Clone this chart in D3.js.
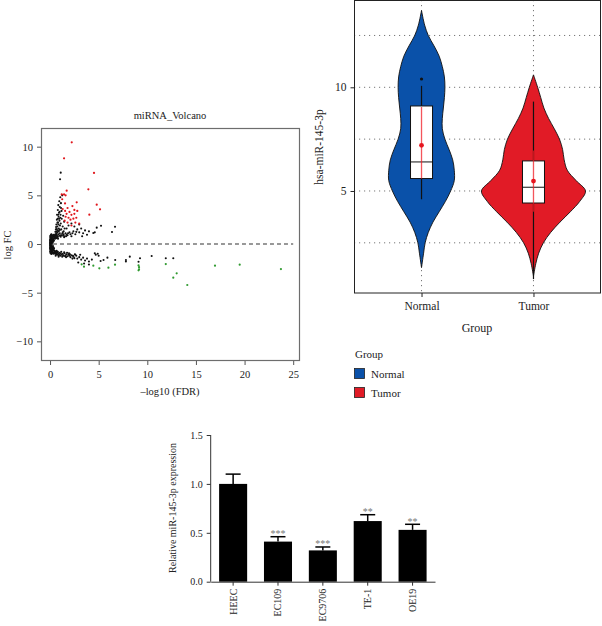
<!DOCTYPE html>
<html>
<head>
<meta charset="utf-8">
<script src="https://cdn.jsdelivr.net/npm/d3@7"></script>
<style>
html,body{margin:0;padding:0;background:#fff;}
svg{display:block;font-family:"Liberation Serif","DejaVu Serif",serif;}
</style>
</head>
<body>
<svg id="chart" width="602" height="626"></svg>
<script>
// ---------------- DATA ----------------
// Volcano plot: [-log10(FDR), logFC]
const volcanoBlack = [
 [0.02,0.05],[0.03,-0.1],[0.05,0.2],[0.04,-0.25],[0.06,0.35],[0.05,-0.38],[0.08,0.45],[0.07,-0.5],
 [0.1,0.1],[0.1,-0.15],[0.12,0.55],[0.11,-0.6],[0.15,0.3],[0.14,-0.35],[0.18,0.62],[0.17,-0.7],
 [0.2,0.0],[0.22,0.4],[0.21,-0.45],[0.25,0.7],[0.24,-0.78],[0.28,0.2],[0.3,-0.2],[0.32,0.75],
 [0.3,-0.85],[0.35,0.5],[0.36,-0.55],[0.4,0.8],[0.38,-0.9],[0.0,0.3],[0.01,-0.3],[0.02,0.5],
 [0.01,-0.5],[0.13,-0.8],[0.09,0.7],[0.0,0.0],[0.04,0.1],[0.06,-0.05],[0.16,0.1],[0.19,-0.25],
 [0.26,0.45],[0.27,-0.6],[0.33,0.3],[0.34,-0.35],[0.42,0.6],[0.44,-0.7],[0.08,-0.7],[0.12,0.8],
 [0.03,0.65],[0.05,-0.62],[0.2,0.85],[0.22,-0.95],[0.15,-0.9],[0.29,0.9],
 [0.0,0.15],[0.0,-0.15],[0.01,0.4],[0.01,-0.42],[0.03,0.75],[0.03,-0.72],[0.07,0.85],[0.06,-0.85],
 [0.1,0.95],[0.1,-0.95],[0.14,1.0],[0.14,-1.02],[0.18,0.45],[0.18,-0.55],[0.24,0.15],[0.24,-0.3],
 [0.3,0.55],[0.31,-0.65],[0.37,0.95],[0.36,-1.0],[0.4,0.35],[0.41,-0.45],[0.47,0.75],[0.48,-0.85],
 [0.53,0.9],[0.54,-0.95],[0.58,0.65],[0.59,-0.75],[0.63,0.95],[0.66,-0.98],[0.73,0.8],[0.74,-0.85],
 [0.08,0.25],[0.09,-0.3],[0.12,0.35],[0.13,-0.2],[0.04,0.85],[0.05,-0.95],[0.02,-0.8],[0.16,0.75],
 [0.45,0.9],[0.5,0.7],[0.55,1.0],[0.6,0.8],[0.65,1.1],[0.7,0.9],[0.75,1.2],[0.8,0.75],
 [0.85,1.0],[0.9,1.3],[0.95,0.85],[1.0,1.1],[0.52,0.55],[0.62,0.6],[0.72,0.65],[0.82,0.55],
 [0.45,-0.95],[0.5,-0.8],[0.55,-1.0],[0.6,-0.85],[0.65,-1.05],[0.7,-0.9],[0.75,-1.1],[0.8,-0.8],
 [0.85,-1.0],[0.9,-1.15],[0.95,-0.9],[1.0,-1.05],[1.1,-0.95],[1.2,-1.1],[1.3,-1.0],[1.4,-1.2],
 [1.5,-0.95],[1.6,-1.15],[1.7,-1.05],[1.8,-1.25],[1.9,-1.1],[2.0,-1.2],[2.1,-1.35],[2.2,-1.15],
 [2.4,-1.3],[2.5,-1.45],[2.7,-1.2],[2.8,-1.5],[3.0,-1.35],[3.2,-1.6],[3.4,-1.4],[3.6,-1.7],
 [3.8,-1.5],[4.0,-1.8],[4.3,-1.6],[4.6,-0.95],[4.7,-1.1],[4.9,-1.0],[5.0,-1.2],[5.2,-1.75],
 [5.5,-1.65],[5.9,-1.4],[6.7,-1.65],[7.8,-1.65],[7.8,-1.8],[8.2,-1.3],[9.1,-1.82],[9.25,-1.47],
 [10.45,-1.23],[11.9,-1.47],[12.67,-1.47],[3.5,-2.0],[4.0,-2.1],[2.9,-1.9],[1.25,-1.3],[1.45,-0.85],
 [1.65,-1.35],[1.95,-0.95],[2.3,-1.5],[2.6,-1.1],[3.1,-1.1],[0.58,-1.2],[0.68,-0.7],[0.88,-1.3],
 [1.05,-1.2],[1.15,-0.8],[1.35,-1.15],[1.55,-1.25],[1.75,-0.9],[2.05,-1.05],[2.35,-1.2],[2.55,-1.05],
 [0.6,1.5],[0.65,2.0],[0.7,2.5],[0.72,3.0],[0.75,1.8],[0.8,3.5],[0.82,2.2],[0.85,4.0],
 [0.88,2.8],[0.9,1.6],[0.92,3.2],[0.95,4.4],[0.97,2.4],[1.0,3.8],[1.02,1.9],[1.05,4.8],
 [1.08,3.0],[1.1,2.1],[1.12,4.2],[1.15,1.5],[1.18,3.4],[1.2,2.6],[1.25,5.0],[1.3,1.8],
 [1.35,2.9],[1.4,1.3],[1.45,2.3],[1.5,1.6],[0.68,1.3],[0.78,2.6],[0.98,3.3],[1.06,2.7],
 [0.55,1.25],[0.62,1.75],[1.1,7.33],[1.03,6.65],[0.7,1.55],[0.8,1.4],[0.86,2.0],[0.93,2.6],
 [1.0,1.45],[0.76,2.2],[1.13,3.7],[0.84,3.0],
 [1.2,0.9],[1.4,1.0],[1.6,1.1],[1.8,0.9],[2.0,1.2],[2.2,0.8],[2.4,1.3],[2.6,1.0],
 [2.8,1.5],[3.0,1.2],[3.2,1.6],[3.4,1.1],[3.6,1.4],[3.8,0.95],[4.0,1.3],[4.45,1.13],
 [4.8,1.68],[5.24,1.88],[6.37,1.23],[6.68,1.78],[4.6,1.2],[2.5,1.8],[3.0,2.0],[3.3,0.8],
 [1.7,1.6],[1.9,1.9],[2.2,2.1],[1.1,0.75],[1.3,1.2],[1.5,0.8],[1.7,0.95],[2.1,1.0],
 [1.25,1.05],[1.45,0.7],[1.65,0.8],[1.85,1.1],[2.3,1.1],[2.7,1.25],[1.05,0.9],[1.35,0.85]
];
const volcanoUp = [
 [2.23,10.45],[1.44,8.8],[4.52,7.3],[3.94,5.62],[1.71,5.48],[1.2,5.1],[1.44,5.1],[1.6,5.0],
 [4.8,4.04],[5.14,3.56],[4.04,3.01],[2.74,4.28],[1.54,4.17],[1.8,3.7],[2.3,3.9],[2.5,3.5],
 [2.0,3.3],[1.7,3.1],[2.8,3.4],[2.2,3.0],[1.9,2.7],[2.4,2.6],[2.1,2.5],[1.6,2.8],
 [1.5,2.4],[2.6,2.2],[3.0,2.1],[1.8,2.2],[2.2,1.9],[2.5,3.1],[1.3,3.6],[1.25,4.6],
 [1.55,3.4],[2.7,2.7]
];
const volcanoDown = [
 [3.25,-2.09],[3.49,-2.33],[4.45,-2.23],[5.07,-2.5],[6.0,-2.43],[6.68,-2.12],
 [9.1,-2.2],[9.15,-2.38],[9.15,-2.6],[9.1,-2.7],[11.9,-2.06],[13.02,-3.01],[12.67,-3.46],
 [14.11,-4.21],[16.96,-2.23],[19.5,-2.12],[23.74,-2.57]
];
const volcanoXTicks = [0,5,10,15,20,25];
const volcanoYTicks = [-10,-5,0,5,10];

// Violin plot
const groups = ["Normal","Tumor"];
const groupColors = ["#0a51a9","#e11b26"];
// [expression, relative density]
const normalDensity = [[1.3,0],[2,0.04],[2.5,0.07],[3,0.13],[3.5,0.22],[4,0.34],[4.5,0.46],[5,0.56],
 [5.5,0.63],[6,0.63],[6.5,0.60],[7,0.53],[7.5,0.45],[8,0.40],[8.5,0.40],[9,0.42],[9.5,0.44],
 [10,0.45],[10.5,0.44],[11,0.40],[11.5,0.34],[12,0.24],[12.5,0.13],[13,0.06],[13.7,0]];
const tumorDensity = [[0.9,0],[1.5,0.045],[2,0.10],[2.5,0.19],[3,0.33],[3.5,0.51],[4,0.71],[4.5,0.89],
 [5,1.0],[5.5,0.82],[6,0.65],[6.5,0.59],[7,0.56],[7.5,0.50],[8,0.40],[8.5,0.29],[9,0.20],
 [9.5,0.14],[10,0.08],[10.6,0]];
// box stats: [whiskerLow, q1, median, q3, whiskerHigh]
const boxStats = [[4.6,5.6,6.4,9.1,10.07],[0.75,4.42,5.18,6.45,9.31]];
const meanValues = [7.2,5.48];
const sdRanges = [[5.6,9.05],[4.0,6.95]];
const outliers = [[0,10.4]];
const violinYTicks = [5,10];
const violinGrid = [2.5,5,7.5,10,12.5];

// Bar chart
const cellLines = ["HEEC","EC109","EC9706","TE-1","OE19"];
const expression = [1.0,0.41,0.32,0.62,0.53];
const errorTop = [1.10,0.46,0.355,0.685,0.587];
const significance = ["","***","***","**","**"];
const barYTicks = [0,0.5,1.0,1.5];

// ---------------- DRAW ----------------
const svg = d3.select("#chart");
const txt = "#222";

// ===== Volcano =====
const vx = d3.scaleLinear().domain([-0.93,25.7]).range([41,300]);
const vy = d3.scaleLinear().domain([-12.02,11.92]).range([361,128]);
const gV = svg.append("g");
gV.append("rect").attr("x",vx.range()[0]+0.5).attr("y",vy.range()[1]+0.5)
  .attr("width",vx.range()[1]-vx.range()[0]-1).attr("height",vy.range()[0]-vy.range()[1]-1)
  .attr("fill","none").attr("stroke","#6d6d6d").attr("stroke-width",1.2);
const vxAxis = gV.append("g").attr("transform",`translate(0,${vy.range()[0]})`)
  .call(d3.axisBottom(vx).tickValues(volcanoXTicks).tickSize(4).tickPadding(6).tickFormat(d3.format("d")));
const vyAxis = gV.append("g").attr("transform",`translate(${vx.range()[0]},0)`)
  .call(d3.axisLeft(vy).tickValues(volcanoYTicks).tickSize(4).tickPadding(4).tickFormat(d=>d<0?"\u2212"+Math.abs(d):d));
[vxAxis,vyAxis].forEach(a=>{
  a.select(".domain").remove();
  a.selectAll("line").attr("stroke","#555");
  a.selectAll("text").attr("fill",txt).style("font-size","10.5px").style("font-family","Liberation Serif");
});
gV.append("line").attr("x1",vx(0.3)).attr("x2",vx(25)).attr("y1",vy(0)).attr("y2",vy(0))
  .attr("stroke","#333").attr("stroke-width",1.1).attr("stroke-dasharray","4,3");
gV.append("g").selectAll("circle").data(volcanoBlack).join("circle")
  .attr("cx",d=>vx(d[0])).attr("cy",d=>vy(d[1])).attr("r",1.05).attr("fill","#111");
gV.append("g").selectAll("circle").data(volcanoUp).join("circle")
  .attr("cx",d=>vx(d[0])).attr("cy",d=>vy(d[1])).attr("r",1.1).attr("fill","#e0161c");
gV.append("g").selectAll("circle").data(volcanoDown).join("circle")
  .attr("cx",d=>vx(d[0])).attr("cy",d=>vy(d[1])).attr("r",1.1).attr("fill","#2f9a2f");
gV.append("text").attr("x",170).attr("y",119).attr("text-anchor","middle")
  .attr("fill",txt).style("font-size","10.5px").text("miRNA_Volcano");
gV.append("text").attr("x",170).attr("y",395).attr("text-anchor","middle")
  .attr("fill",txt).style("font-size","10.5px").text("\u2013log10 (FDR)");
gV.append("text").attr("transform","translate(11,245) rotate(-90)").attr("text-anchor","middle")
  .attr("fill",txt).style("font-size","10.5px").text("log FC");

// ===== Violin =====
const gx = d3.scalePoint().domain(groups).range([354,601]).padding(0.603);
const gy = d3.scaleLinear().domain([0.08,14.21]).range([293,0]);
const wScale = d3.scaleLinear().domain([0,1]).range([0,52]);
const gVi = svg.append("g");
// grid
gVi.append("g").selectAll("line").data(violinGrid).join("line")
  .attr("x1",354).attr("x2",601).attr("y1",d=>gy(d)).attr("y2",d=>gy(d))
  .attr("stroke","#777").attr("stroke-width",1).attr("stroke-dasharray","1.2,3.8");
gVi.append("g").selectAll("line").data(groups).join("line")
  .attr("x1",d=>gx(d)).attr("x2",d=>gx(d)).attr("y1",0).attr("y2",293)
  .attr("stroke","#777").attr("stroke-width",1).attr("stroke-dasharray","1.2,3.8");
const densities = [normalDensity,tumorDensity];
groups.forEach((g,i)=>{
  const cx = gx(g);
  const area = d3.area().y(d=>gy(d[0])).x0(d=>cx-wScale(d[1])).x1(d=>cx+wScale(d[1])).curve(d3.curveCatmullRom);
  gVi.append("path").datum(densities[i]).attr("d",area)
    .attr("fill",groupColors[i]).attr("stroke","#111").attr("stroke-width",0.9);
  const b = boxStats[i];
  gVi.append("line").attr("x1",cx).attr("x2",cx).attr("y1",gy(b[0])).attr("y2",gy(b[4]))
    .attr("stroke","#111").attr("stroke-width",1.2);
  gVi.append("rect").attr("x",cx-11).attr("width",22).attr("y",gy(b[3])).attr("height",gy(b[1])-gy(b[3]))
    .attr("fill","#fff").attr("stroke","#111").attr("stroke-width",1);
  gVi.append("line").attr("x1",cx-11).attr("x2",cx+11).attr("y1",gy(b[2])).attr("y2",gy(b[2]))
    .attr("stroke","#111").attr("stroke-width",1);
  gVi.append("line").attr("x1",cx).attr("x2",cx).attr("y1",gy(sdRanges[i][0])).attr("y2",gy(sdRanges[i][1]))
    .attr("stroke","#f01c24").attr("stroke-opacity",0.75).attr("stroke-width",1.3);
  gVi.append("circle").attr("cx",cx).attr("cy",gy(meanValues[i])).attr("r",2.4).attr("fill","#e5161f");
});
gVi.append("g").selectAll("circle").data(outliers).join("circle")
  .attr("cx",d=>gx(groups[d[0]])).attr("cy",d=>gy(d[1])).attr("r",1.6).attr("fill","#111");
// frame
gVi.append("rect").attr("x",354.5).attr("y",0.5).attr("width",246).attr("height",292.5)
  .attr("fill","none").attr("stroke","#222").attr("stroke-width",1);
const gyAxis = gVi.append("g").attr("transform","translate(354.5,0)")
  .call(d3.axisLeft(gy).tickValues(violinYTicks).tickSize(4).tickPadding(4));
const gxAxis = gVi.append("g").attr("transform","translate(0,293)")
  .call(d3.axisBottom(gx).tickSize(4).tickPadding(5));
[gyAxis,gxAxis].forEach(a=>{
  a.select(".domain").remove();
  a.selectAll("line").attr("stroke","#222");
  a.selectAll("text").attr("fill",txt).style("font-size","11.5px").style("font-family","Liberation Serif");
});
gVi.append("text").attr("x",477).attr("y",332).attr("text-anchor","middle")
  .attr("fill",txt).style("font-size","12px").text("Group");
gVi.append("text").attr("transform","translate(323,147) rotate(-90)").attr("text-anchor","middle")
  .attr("fill",txt).style("font-size","11.5px").text("hsa-miR-145-3p");
// legend
const lg = svg.append("g");
lg.append("text").attr("x",355).attr("y",358).attr("fill",txt).style("font-size","11px").text("Group");
groups.forEach((g,i)=>{
  lg.append("rect").attr("x",354.5).attr("y",368.5+i*19).attr("width",10).attr("height",10)
    .attr("fill",groupColors[i]).attr("stroke","#222").attr("stroke-width",0.8);
  lg.append("text").attr("x",371).attr("y",377.5+i*19).attr("fill",txt).style("font-size","11px").text(g);
});

// ===== Bar chart =====
const bx = d3.scaleBand().domain(cellLines).range([210.7,435]).paddingInner(0.375).paddingOuter(0.1875);
const by = d3.scaleLinear().domain([0,1.5]).range([581.7,435]);
const gB = svg.append("g");
gB.append("g").selectAll("rect").data(cellLines).join("rect")
  .attr("x",d=>bx(d)).attr("width",bx.bandwidth())
  .attr("y",(d,i)=>by(expression[i])).attr("height",(d,i)=>by(0)-by(expression[i]))
  .attr("fill","#000");
cellLines.forEach((c,i)=>{
  const cx = bx(c)+bx.bandwidth()/2;
  gB.append("line").attr("x1",cx).attr("x2",cx).attr("y1",by(expression[i])).attr("y2",by(errorTop[i]))
    .attr("stroke","#000").attr("stroke-width",1.5);
  gB.append("line").attr("x1",cx-7.5).attr("x2",cx+7.5).attr("y1",by(errorTop[i])).attr("y2",by(errorTop[i]))
    .attr("stroke","#000").attr("stroke-width",1.5);
  if(significance[i]){
    gB.append("text").attr("x",cx).attr("y",by(errorTop[i])+0.5).attr("text-anchor","middle")
      .attr("fill","#777").style("font-size","10px").text(significance[i]);
  }
});
const byAxis = gB.append("g").attr("transform","translate(210.7,0)")
  .call(d3.axisLeft(by).tickValues(barYTicks).tickSize(4).tickPadding(4).tickFormat(d3.format(".1f")));
const bxAxis = gB.append("g").attr("transform","translate(0,581.7)")
  .call(d3.axisBottom(bx).tickSize(4).tickSizeOuter(0));
[byAxis,bxAxis].forEach(a=>{
  a.select(".domain").attr("stroke","#333").attr("stroke-width",1);
  a.selectAll("line").attr("stroke","#333").attr("stroke-width",1);
  a.selectAll("text").attr("fill",txt).style("font-size","10px").style("font-family","Liberation Serif");
});
byAxis.select(".domain").attr("d","M0,435V581.7");
bxAxis.selectAll("text").attr("transform","rotate(-90)").attr("text-anchor","end")
  .attr("x",-7).attr("y",0).attr("dy","0.35em");
gB.append("text").attr("transform","translate(176,508) rotate(-90)").attr("text-anchor","middle")
  .attr("fill",txt).style("font-size","10px").text("Relative miR-145-3p expression");
</script>
</body>
</html>
